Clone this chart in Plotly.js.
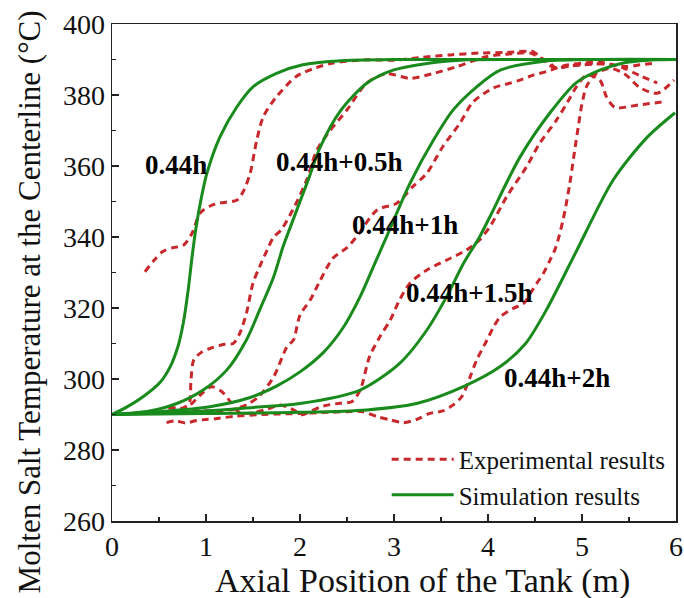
<!DOCTYPE html>
<html>
<head>
<meta charset="utf-8">
<script src="https://cdn.plot.ly/plotly-3.0.1.min.js"></script>
<style>html,body{margin:0;padding:0;background:#fff;}#chart{width:684px;height:598px;}</style>
</head>
<body>
<div id="chart"></div>
<script>
// ---- Experimental results (red dashed) ----
const exp1X = [0.35,0.45,0.54,0.65,0.76,0.85,0.94,1.05,1.15,1.33,1.40,1.47,1.54,1.61,1.75,1.96,2.15,2.35,2.70,3.00,3.30,3.60,3.90,4.20,4.48,4.55,4.66,4.73,4.84,4.98,5.12,5.30,5.47,5.62,5.76];
const exp1Y = [330.2,333.5,335.9,337.0,337.7,341.0,346.8,348.8,349.6,350.4,353.0,358.0,367.3,373.9,379.5,385.2,387.5,389.0,389.9,389.8,390.6,391.3,391.8,392.0,392.2,390.8,388.9,387.5,388.0,388.5,388.9,388.5,388.0,388.5,388.9];

const exp2X = [0.60,0.75,0.82,0.84,0.87,0.95,1.04,1.20,1.29,1.36,1.43,1.50,1.57,1.65,1.72,1.80,1.95,2.07,2.18,2.32,2.50,2.71,2.92,3.17,3.41,3.67,3.98,4.20,4.45,4.55,4.70,4.90,5.20];
const exp2Y = [292.2,291.8,293.0,299.7,305.4,307.5,308.6,309.8,310.0,312.9,318.5,327.0,331.6,336.3,340.0,342.0,349.0,356.0,364.5,370.0,375.8,383.4,386.0,384.7,386.0,388.0,390.8,391.5,391.8,390.5,387.8,388.3,388.8];

const exp3X = [0.60,0.85,1.10,1.30,1.43,1.56,1.72,1.86,1.93,2.00,2.11,2.20,2.35,2.50,2.60,2.82,3.03,3.20,3.35,3.52,3.70,3.84,4.06,4.23,4.34,4.48,4.62,4.80,5.00,5.20,5.44,5.62,5.80];
const exp3Y = [291.8,291.2,291.0,291.5,292.7,295.0,300.6,309.0,311.0,318.0,322.3,327.0,334.0,337.0,340.0,347.6,349.5,354.2,358.0,365.5,372.0,378.0,382.0,383.3,384.2,385.6,386.6,388.2,389.0,389.2,387.6,385.4,383.4];

const exp4X = [0.60,0.80,0.94,1.06,1.17,1.26,1.36,1.50,1.65,1.79,1.93,2.02,2.12,2.25,2.43,2.55,2.64,2.74,2.85,2.96,3.06,3.17,3.35,3.56,3.77,3.91,4.02,4.20,4.41,4.55,4.73,4.84,4.94,5.05,5.19,5.26,5.35,5.60,5.87];
const exp4Y = [290.5,292.0,295.5,297.8,296.4,293.6,290.5,290.5,291.5,292.7,291.3,289.9,291.0,292.4,293.2,293.6,296.9,306.3,311.9,316.6,322.3,327.0,330.7,333.5,336.3,339.2,342.9,351.4,359.8,366.4,373.0,377.7,382.3,385.6,384.2,379.5,376.5,377.2,378.1];

const exp5X = [0.58,0.68,0.78,0.90,1.00,1.10,1.30,1.60,2.00,2.30,2.50,2.67,2.82,2.96,3.10,3.24,3.38,3.52,3.63,3.72,3.81,3.88,3.99,4.06,4.13,4.27,4.38,4.45,4.52,4.59,4.66,4.72,4.80,4.87,4.92,4.96,5.00,5.05,5.15,5.30,5.45,5.62,5.80,5.98];
const exp5Y = [287.7,288.2,287.6,288.3,288.6,288.8,289.5,290.0,290.3,290.6,290.8,290.8,289.4,288.5,287.7,288.6,290.3,291.0,292.7,295.0,300.6,305.4,311.0,314.7,317.5,319.9,321.3,324.1,327.0,329.8,333.5,337.0,345.0,355.0,364.0,371.0,377.5,382.5,386.0,387.5,386.0,382.0,380.5,384.2];

// ---- Simulation results (green solid) ----
const sim1X = [0,0.15,0.33,0.51,0.62,0.70,0.76,0.81,0.85,0.89,0.95,1.01,1.15,1.33,1.50,1.75,2.03,2.40,3.00,4.00,5.00,6.00];
const sim1Y = [290,292.0,295.0,299.0,303.5,309.0,316.0,325.0,334.0,342.0,351.0,358.0,368.3,376.7,382.3,386.1,388.5,389.6,390,390,390,390];

const sim2X = [0,0.40,0.69,0.97,1.22,1.43,1.57,1.72,1.82,1.90,2.00,2.10,2.21,2.43,2.71,2.99,3.35,3.78,4.50,5.50,6.00];
const sim2Y = [290,291.0,293.1,296.9,302.5,311.0,319.4,328.8,337.3,343.0,350.0,357.0,365.0,375.5,383.3,387.0,388.9,389.9,390,390,390];

const sim3X = [0,0.50,1.04,1.47,1.75,2.00,2.25,2.46,2.64,2.78,2.92,3.17,3.42,3.63,3.88,4.13,4.60,5.20,6.00];
const sim3Y = [290,290.8,292.2,294.8,298.0,302.0,307.5,314.5,323.2,331.6,340.0,355.1,367.3,375.8,382.3,387.0,389.5,390,390];

const sim4X = [0,1.00,1.50,2.00,2.64,3.06,3.35,3.56,3.74,3.91,4.02,4.34,4.66,4.94,5.19,5.44,5.80,6.00];
const sim4Y = [290,291.0,292.0,293.1,296.9,304.4,313.8,323.2,332.6,340.0,345.7,362.5,375.0,383.5,387.0,389.0,389.9,390];

const sim5X = [0,1.00,2.00,2.71,3.24,3.75,4.13,4.40,4.62,4.94,5.33,5.69,5.99];
const sim5Y = [290,290.3,290.6,291.3,293.1,298.0,303.5,310.0,319.4,336.0,356.0,368.0,375.0];

// ---- Curve labels ----
const labelText = ['0.44h','0.44h+0.5h','0.44h+1h','0.44h+1.5h','0.44h+2h'];
const labelX = [0.68, 2.42, 3.12, 3.80, 4.73];
const labelY = [360.3, 361.0, 343.4, 324.1, 300.2];

const xTicks = [0,1,2,3,4,5,6];
const yTicks = [260,280,300,320,340,360,380,400];
const xTitle = 'Axial Position of the Tank (m)';
const yTitle = 'Molten Salt Temperature at the Centerline (°C)';

const RED = '#c8282c';
const GREEN = '#198a1c';
const SERIF = '"Liberation Serif", "Times New Roman", serif';

const expSets = [[exp1X,exp1Y],[exp2X,exp2Y],[exp3X,exp3Y],[exp4X,exp4Y],[exp5X,exp5Y]];
const simSets = [[sim1X,sim1Y],[sim2X,sim2Y],[sim3X,sim3Y],[sim4X,sim4Y],[sim5X,sim5Y]];

const traces = [];
expSets.forEach((s, i) => {
  traces.push({
    x: s[0], y: s[1], type: 'scatter', mode: 'lines',
    name: 'Experimental results', legendgroup: 'exp', showlegend: i === 0,
    line: {color: RED, width: 3, dash: '7px,5px', shape: 'spline', smoothing: 0.8}
  });
});
simSets.forEach((s, i) => {
  traces.push({
    x: s[0], y: s[1], type: 'scatter', mode: 'lines',
    name: 'Simulation results', legendgroup: 'sim', showlegend: i === 0,
    line: {color: GREEN, width: 3, shape: 'spline', smoothing: 0.8}
  });
});

const annotations = labelText.map((t, i) => ({
  x: labelX[i], y: labelY[i], xref: 'x', yref: 'y', text: '<b>' + t + '</b>',
  showarrow: false, font: {family: SERIF, size: 27, color: '#000'}
}));
// axis titles placed as in the reference (offset from the plot centre)
annotations.push({
  x: (422 - 112) / 564, y: -0.121, xref: 'paper', yref: 'paper', xanchor: 'center', yanchor: 'middle',
  text: xTitle, showarrow: false, font: {family: SERIF, size: 34, color: '#111'}
});
annotations.push({
  x: -0.147, y: 0.44, xref: 'paper', yref: 'paper', xanchor: 'center', yanchor: 'middle',
  text: yTitle, textangle: -90, showarrow: false, font: {family: SERIF, size: 31, color: '#111'}
});

const axisCommon = {
  showgrid: false, zeroline: false, showline: true, linecolor: '#222', linewidth: 1.5,
  mirror: true, ticks: 'inside', ticklen: 7, tickwidth: 1.5, tickcolor: '#222',
  tickfont: {family: SERIF, size: 28, color: '#111'}
};

const layout = {
  width: 684, height: 598,
  margin: {l: 112, r: 8, t: 24, b: 77},
  paper_bgcolor: '#fff', plot_bgcolor: '#fff',
  showlegend: true,
  legend: {
    x: 0.487, y: 0.17, xanchor: 'left', yanchor: 'top',
    bgcolor: 'rgba(0,0,0,0)', borderwidth: 0,
    font: {family: SERIF, size: 25, color: '#111'},
    itemwidth: 62,
    tracegroupgap: 0
  },
  xaxis: Object.assign({}, axisCommon, {
    range: [0, 6], tickvals: xTicks, ticktext: xTicks.map(String),
    minor: {ticks: 'inside', ticklen: 4, tickwidth: 1.5, tickcolor: '#222', tickvals: [0.5,1.5,2.5,3.5,4.5,5.5]}
  }),
  yaxis: Object.assign({}, axisCommon, {
    range: [260, 400], tickvals: yTicks, ticktext: yTicks.map(String),
    minor: {ticks: 'inside', ticklen: 4, tickwidth: 1.5, tickcolor: '#222', tickvals: [270,290,310,330,350,370,390]}
  }),
  annotations: annotations
};

Plotly.newPlot('chart', traces, layout, {displayModeBar: false, staticPlot: true});
</script>
</body>
</html>
